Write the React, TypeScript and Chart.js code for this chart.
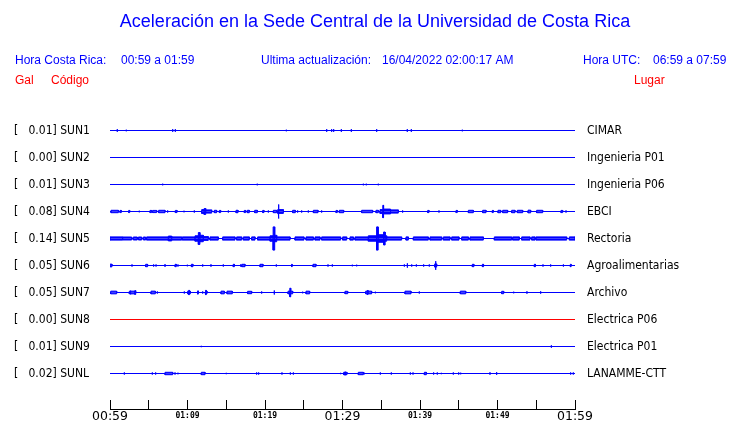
import React, { useEffect, useRef } from 'react';
import { Chart, registerables } from 'chart.js';

Chart.register(...registerables);

// ---------- data ----------
const codes = ['SUN1', 'SUN2', 'SUN3', 'SUN4', 'SUN5', 'SUN6', 'SUN7', 'SUN8', 'SUN9', 'SUNL'];
const places = ['CIMAR', 'Ingenieria P01', 'Ingenieria P06', 'EBCI', 'Rectoria', 'Agroalimentarias', 'Archivo', 'Electrica P06', 'Electrica P01', 'LANAMME-CTT'];
const galValues = [0.01, 0.0, 0.01, 0.08, 0.14, 0.05, 0.05, 0.0, 0.01, 0.02];
const traceColors = ['#0000ff', '#0000ff', '#0000ff', '#0000ff', '#0000ff', '#0000ff', '#0000ff', '#ff0000', '#0000ff', '#0000ff'];
const timeLabels = ['00:59', '01:09', '01:19', '01:29', '01:39', '01:49', '01:59'];
const tickMinutes = [0, 5, 10, 15, 20, 25, 30, 35, 40, 45, 50, 55, 60];

const titleText = 'Aceleración en la Sede Central de la Universidad de Costa Rica';
const headerBlue = [
  ['Hora Costa Rica:', 15], ['00:59 a 01:59', 121],
  ['Ultima actualización:', 261], ['16/04/2022 02:00:17 AM', 382],
  ['Hora UTC:', 583], ['06:59 a 07:59', 653],
] as [string, number][];
const headerRed = [['Gal', 15], ['Código', 51], ['Lugar', 634]] as [string, number][];

// events: [start minute, end minute, half amplitude (in trace-row units)]
const SUN1 = [[0.94, 0.94, 0.05], [2.1, 2.1, 0.03], [8.09, 8.09, 0.05], [8.43, 8.43, 0.05], [22.75, 22.75, 0.03], [27.96, 27.96, 0.05], [28.6, 28.6, 0.05], [28.86, 28.86, 0.05], [29.85, 29.85, 0.05], [31.14, 31.14, 0.05], [34.41, 34.41, 0.05], [38.36, 38.36, 0.05], [38.88, 38.88, 0.05], [45.46, 45.46, 0.03]];
const SUN2: number[][] = [];
const SUN3 = [[6.8, 6.8, 0.03], [19.0, 19.0, 0.03], [32.69, 32.69, 0.03], [33.07, 33.07, 0.03], [34.62, 34.62, 0.03]];
const SUN4 = [[0.13, 1.08, 0.045], [1.29, 1.46, 0.04], [2.41, 2.54, 0.04], [3.78, 3.78, 0.03], [5.16, 5.38, 0.04], [5.5, 6.02, 0.04], [6.28, 7.1, 0.045], [7.44, 7.44, 0.04], [8.43, 8.65, 0.04], [9.55, 9.55, 0.03], [10.88, 10.88, 0.04], [11.83, 12.15, 0.07], [12.15, 12.35, 0.11], [12.35, 13.12, 0.06], [13.46, 13.76, 0.045], [14.11, 14.28, 0.04], [15.27, 15.27, 0.04], [16.26, 16.52, 0.045], [17.33, 17.51, 0.04], [17.72, 17.97, 0.045], [18.67, 19.01, 0.045], [19.7, 19.87, 0.04], [20.43, 20.43, 0.04], [21.08, 21.51, 0.045], [21.64, 21.72, 0.07], [21.72, 21.8, 0.26], [21.8, 22.37, 0.07], [23.57, 23.91, 0.045], [24.21, 24.21, 0.04], [24.73, 24.73, 0.04], [25.59, 25.59, 0.04], [26.24, 26.84, 0.045], [27.31, 27.31, 0.04], [29.16, 29.33, 0.04], [29.59, 30.15, 0.045], [32.47, 33.89, 0.045], [34.32, 34.62, 0.045], [34.84, 35.2, 0.07], [35.2, 35.3, 0.23], [35.3, 36.2, 0.09], [36.2, 37.2, 0.06], [37.76, 37.76, 0.04], [40.99, 41.16, 0.04], [42.45, 42.45, 0.04], [44.65, 44.81, 0.04], [46.24, 46.88, 0.045], [48.09, 48.52, 0.045], [49.33, 49.46, 0.04], [50.06, 50.41, 0.045], [50.67, 51.31, 0.045], [51.83, 52.26, 0.045], [52.56, 53.25, 0.045], [53.94, 54.28, 0.05], [55.05, 55.83, 0.045], [58.19, 58.41, 0.04], [58.84, 58.84, 0.04]];
const SUN5 = [[0, 1.63, 0.06], [1.63, 2.8, 0.055], [3.0, 3.52, 0.055], [3.66, 4.09, 0.055], [4.3, 4.6, 0.055], [4.73, 7.53, 0.06], [7.53, 7.96, 0.09], [7.96, 9.25, 0.06], [9.33, 10.97, 0.06], [10.97, 11.4, 0.1], [11.4, 11.6, 0.22], [11.6, 12.04, 0.12], [12.04, 12.68, 0.07], [12.9, 13.97, 0.06], [14.54, 16.13, 0.06], [16.34, 16.99, 0.06], [17.2, 17.97, 0.06], [18.28, 18.71, 0.06], [19.05, 20.65, 0.06], [20.65, 21.05, 0.1], [21.05, 21.25, 0.43], [21.25, 21.51, 0.12], [21.51, 23.23, 0.06], [23.87, 25.03, 0.06], [25.29, 26.24, 0.06], [26.45, 27.1, 0.06], [27.31, 29.76, 0.06], [30.02, 30.54, 0.06], [30.97, 31.4, 0.06], [31.61, 33.33, 0.06], [33.33, 34.4, 0.1], [34.4, 34.6, 0.43], [34.6, 35.3, 0.14], [35.3, 35.5, 0.24], [35.5, 35.7, 0.1], [35.7, 37.63, 0.06], [38.19, 38.49, 0.06], [39.14, 41.07, 0.06], [41.29, 42.8, 0.06], [43.01, 43.87, 0.06], [44.09, 45.03, 0.06], [45.38, 46.24, 0.06], [46.45, 48.17, 0.06], [49.59, 51.83, 0.06], [51.96, 52.81, 0.06], [53.12, 54.19, 0.06], [54.41, 54.84, 0.06], [54.97, 58.93, 0.06], [59.27, 60, 0.06]];
const SUN6 = [[0, 0.25, 0.05], [2.84, 2.84, 0.04], [4.6, 4.85, 0.045], [5.63, 5.63, 0.04], [5.94, 5.94, 0.04], [7.1, 7.1, 0.05], [8.4, 8.55, 0.045], [8.77, 8.77, 0.04], [9.98, 9.98, 0.03], [10.5, 10.7, 0.045], [11.96, 11.96, 0.04], [13.03, 13.03, 0.045], [14.62, 14.62, 0.04], [15.9, 16.05, 0.045], [16.86, 16.86, 0.04], [17.0, 17.42, 0.045], [19.35, 19.74, 0.045], [21.46, 21.46, 0.04], [23.44, 23.5, 0.045], [26.19, 26.58, 0.045], [28.13, 28.13, 0.04], [28.69, 28.69, 0.04], [31.27, 31.27, 0.03], [31.83, 31.83, 0.03], [37.98, 37.98, 0.04], [38.37, 38.37, 0.08], [38.93, 38.93, 0.04], [39.53, 39.53, 0.04], [40.47, 40.47, 0.04], [41.2, 41.2, 0.04], [41.9, 42.0, 0.06], [42.0, 42.05, 0.16], [42.05, 42.15, 0.06], [46.75, 46.95, 0.045], [48.05, 48.2, 0.045], [54.75, 54.9, 0.045], [55.87, 55.87, 0.04], [56.86, 56.86, 0.04], [58.5, 58.5, 0.04], [59.4, 59.5, 0.045]];
const SUN7 = [[0.09, 0.86, 0.05], [2.49, 2.6, 0.05], [2.6, 2.7, 0.07], [2.7, 3.2, 0.05], [3.2, 3.3, 0.07], [3.3, 3.35, 0.05], [5.29, 5.85, 0.05], [6.11, 6.11, 0.04], [9.59, 9.59, 0.04], [10.02, 10.15, 0.05], [10.15, 10.25, 0.08], [10.25, 10.37, 0.05], [11.3, 11.4, 0.06], [11.96, 11.96, 0.04], [12.26, 12.35, 0.05], [12.35, 12.42, 0.08], [12.42, 12.52, 0.05], [14.32, 14.75, 0.05], [15.1, 15.78, 0.05], [17.76, 18.28, 0.045], [19.57, 19.57, 0.04], [21.2, 21.2, 0.075], [22.97, 23.2, 0.05], [23.2, 23.32, 0.16], [23.32, 23.57, 0.05], [24.86, 24.86, 0.03], [25.29, 25.76, 0.05], [30.32, 30.67, 0.045], [32.99, 33.2, 0.05], [33.2, 33.3, 0.075], [33.3, 33.76, 0.05], [34.24, 34.24, 0.03], [38.06, 38.84, 0.05], [39.91, 39.91, 0.04], [45.2, 45.9, 0.05], [50.54, 50.8, 0.045], [52.09, 52.09, 0.03], [53.8, 53.8, 0.045], [55.57, 55.57, 0.045]];
const SUN8: number[][] = [];
const SUN9 = [[11.78, 11.78, 0.025], [56.95, 56.95, 0.045]];
const SUNL = [[1.85, 1.85, 0.04], [5.46, 5.46, 0.04], [5.89, 5.89, 0.04], [7.1, 8.09, 0.045], [8.39, 8.39, 0.04], [8.77, 8.77, 0.03], [11.78, 12.26, 0.045], [15.0, 15.0, 0.025], [18.92, 18.92, 0.04], [19.18, 19.18, 0.04], [22.19, 22.19, 0.04], [23.27, 23.27, 0.04], [23.66, 23.66, 0.04], [29.76, 29.76, 0.025], [30.15, 30.3, 0.045], [30.3, 30.38, 0.06], [30.38, 30.58, 0.045], [32.04, 32.69, 0.045], [32.82, 32.82, 0.03], [34.88, 34.88, 0.04], [36.3, 36.3, 0.04], [38.75, 38.75, 0.04], [39.1, 39.1, 0.04], [40.56, 40.82, 0.045], [41.76, 41.76, 0.04], [42.23, 42.23, 0.04], [42.75, 42.75, 0.025], [44.3, 44.3, 0.04], [44.99, 44.99, 0.04], [45.25, 45.25, 0.03], [49.03, 49.03, 0.045], [49.89, 49.89, 0.05], [59.44, 59.44, 0.04], [59.78, 59.78, 0.04]];
const traceEvents = [SUN1, SUN2, SUN3, SUN4, SUN5, SUN6, SUN7, SUN8, SUN9, SUNL];

const T_MIN = 0;
const T_MAX = 60;

// ---------- helpers ----------
function envelope(ev: number[][], base: number, sign: number) {
  const pts: { x: number; y: number }[] = [{ x: T_MIN, y: base }];
  for (const [t0, t1, a] of ev) {
    pts.push({ x: t0, y: base }, { x: t0, y: base + sign * a }, { x: t1, y: base + sign * a }, { x: t1, y: base });
  }
  pts.push({ x: T_MAX, y: base });
  return pts;
}

const Y_MIN = 1 - 27.5 / 27;
const Y_MAX = Y_MIN + 306 / 27;
const rowTicks = codes.map((_, i) => i + 1);

const labelFont = { family: '"DejaVu Sans Condensed", "DejaVu Sans", sans-serif', size: 12 };

function fixBox(s: any, w?: number, h?: number) {
  if (w !== undefined) s.width = w;
  if (h !== undefined) s.height = h;
  s.paddingTop = 0;
  s.paddingBottom = 0;
  s.paddingLeft = 0;
  s.paddingRight = 0;
}

const headerPlugin = {
  id: 'header',
  afterDraw(chart: any) {
    const ctx = chart.ctx;
    ctx.save();
    ctx.textBaseline = 'middle';
    ctx.fillStyle = '#0000ff';
    ctx.textAlign = 'center';
    ctx.font = '18px "Liberation Sans", Arial, sans-serif';
    ctx.fillText(titleText, 375, 22);
    ctx.textAlign = 'left';
    ctx.font = '12px "Liberation Sans", Arial, sans-serif';
    for (const [t, x] of headerBlue) ctx.fillText(t, x, 61);
    ctx.fillStyle = '#ff0000';
    for (const [t, x] of headerRed) ctx.fillText(t, x, 81);
    ctx.restore();
  },
};

export default function App() {
  const ref = useRef<HTMLCanvasElement | null>(null);
  useEffect(() => {
    document.body.style.margin = '0';
    const datasets: any[] = [];
    traceEvents.forEach((ev, i) => {
      const base = i + 1;
      [-1, 1].forEach((sign) => {
        datasets.push({
          data: envelope(ev, base, sign),
          borderColor: traceColors[i],
          backgroundColor: traceColors[i],
          borderWidth: 1,
          pointRadius: 0,
          tension: 0,
          fill: { value: base },
          yAxisID: 'y',
        });
      });
    });
    const chart = new Chart(ref.current as HTMLCanvasElement, {
      type: 'line',
      data: { datasets },
      options: {
        animation: false,
        responsive: false,
        maintainAspectRatio: false,
        devicePixelRatio: 1,
        layout: { padding: { top: 103, left: 14, right: 0, bottom: 0 } },
        plugins: { legend: { display: false }, tooltip: { enabled: false }, title: { display: false } },
        scales: {
          x: {
            type: 'linear',
            min: T_MIN,
            max: T_MAX,
            afterBuildTicks: (s: any) => { s.ticks = tickMinutes.map((v) => ({ value: v })); },
            afterFit: (s: any) => fixBox(s, undefined, 14),
            grid: { drawOnChartArea: false, drawTicks: true, tickLength: -9, color: '#000', lineWidth: 1 },
            border: { display: true, color: '#000', width: 1 },
            ticks: {
              autoSkip: false,
              maxRotation: 0,
              padding: 9,
              color: '#000',
              callback: (v: any) => (v % 10 === 0 ? timeLabels[v / 10] : ''),
              font: (c: any) => (c.tick && c.tick.value % 30 === 0
                ? { family: '"DejaVu Sans", sans-serif', size: 12.5, lineHeight: 1.2 }
                : { family: '"DejaVu Sans Mono", monospace', size: 8, weight: 'bold', lineHeight: 1.75 }),
            },
          },
          y: {
            type: 'linear',
            position: 'left',
            reverse: true,
            min: Y_MIN,
            max: Y_MAX,
            afterBuildTicks: (s: any) => { s.ticks = rowTicks.map((v) => ({ value: v })); },
            afterFit: (s: any) => fixBox(s, 96),
            grid: { display: false, drawTicks: false },
            border: { display: false },
            ticks: {
              crossAlign: 'far',
              color: '#000',
              font: labelFont,
              callback: (v: any) => `[   ${galValues[v - 1].toFixed(2)}] ${codes[v - 1]}`,
            },
          },
          y2: {
            type: 'linear',
            position: 'right',
            reverse: true,
            min: Y_MIN,
            max: Y_MAX,
            afterBuildTicks: (s: any) => { s.ticks = rowTicks.map((v) => ({ value: v })); },
            afterFit: (s: any) => fixBox(s, 165),
            grid: { display: false, drawTicks: false },
            border: { display: false },
            ticks: {
              padding: 12,
              color: '#000',
              font: labelFont,
              callback: (v: any) => places[v - 1],
            },
          },
        },
      } as any,
      plugins: [headerPlugin],
    });
    return () => chart.destroy();
  }, []);
  return (
    <div style={{ width: 740, height: 423, background: '#fff' }}>
      <canvas ref={ref} width={740} height={423} style={{ display: 'block' }} />
    </div>
  );
}
